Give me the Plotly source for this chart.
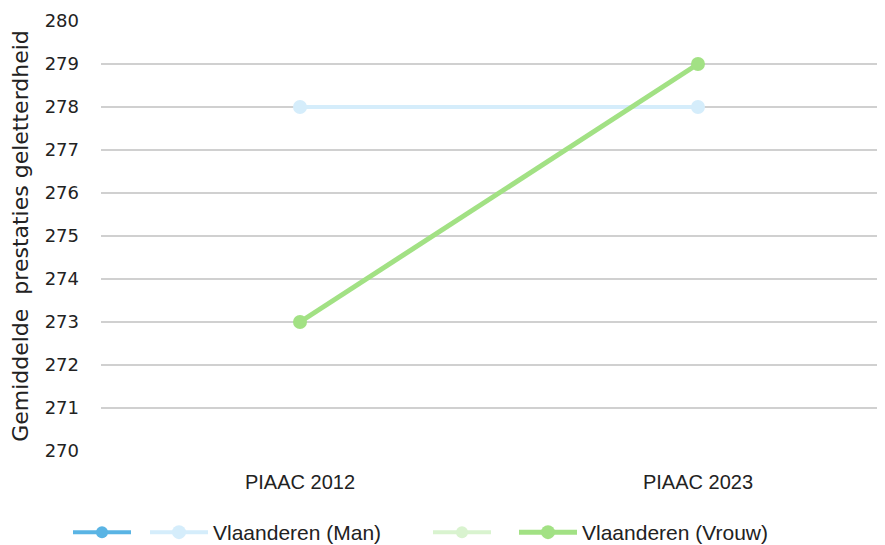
import plotly.graph_objects as go

categories = ["PIAAC 2012", "PIAAC 2023"]
x_pos = [0, 1]
man_values = [278, 278]
vrouw_values = [273, 279]
y_ticks = [270, 271, 272, 273, 274, 275, 276, 277, 278, 279, 280]

fig = go.Figure()
fig.add_trace(go.Scatter(x=[None], y=[None], name=" ", mode="lines+markers", legend="legend",
                         line=dict(color="#5ab4e4", width=4), marker=dict(size=12, color="#5ab4e4")))
fig.add_trace(go.Scatter(x=x_pos, y=man_values, name="Vlaanderen (Man)", mode="lines+markers", legend="legend2",
                         line=dict(color="#d5edfb", width=4), marker=dict(size=14, color="#d5edfb")))
fig.add_trace(go.Scatter(x=[None], y=[None], name=" ", mode="lines+markers", legend="legend3",
                         line=dict(color="#d9f3cf", width=4), marker=dict(size=12, color="#d9f3cf")))
fig.add_trace(go.Scatter(x=x_pos, y=vrouw_values, name="Vlaanderen (Vrouw)", mode="lines+markers", legend="legend4",
                         line=dict(color="#a2e184", width=5), marker=dict(size=14, color="#a2e184")))

legend_common = dict(orientation="h", xref="container", yref="container", xanchor="left",
                     y=0.0, yanchor="bottom", itemwidth=58, traceorder="normal", bgcolor="rgba(0,0,0,0)",
                     font=dict(size=21, family="Liberation Sans, Arial, sans-serif"))

fig.update_layout(
    width=885, height=545,
    margin=dict(l=93, r=0, t=13, b=102, autoexpand=False),
    plot_bgcolor="white", paper_bgcolor="white",
    font=dict(family="Liberation Sans, Arial, sans-serif", size=17, color="#222"),
    showlegend=True,
    legend=dict(legend_common, x=60 / 885),
    legend2=dict(legend_common, x=137 / 885),
    legend3=dict(legend_common, x=420 / 885),
    legend4=dict(legend_common, x=506 / 885),
    xaxis=dict(range=[-0.5, 1.49], tickvals=x_pos, ticktext=categories, showgrid=False,
               zeroline=False, showline=False, ticks="", tickfont=dict(size=20), ticklabelstandoff=17),
    yaxis=dict(range=[270, 280], tickvals=y_ticks, showgrid=True, gridcolor="#d0d0d0", gridwidth=1.5,
               zeroline=False, showline=False, ticks="", ticklabelstandoff=21,
               tickfont=dict(family="DejaVu Sans, sans-serif", size=18),
               title=dict(text="Gemiddelde&nbsp; prestaties geletterdheid",
                          font=dict(family="DejaVu Sans, sans-serif", size=22), standoff=10)),
)

fig.write_html("out.html")
